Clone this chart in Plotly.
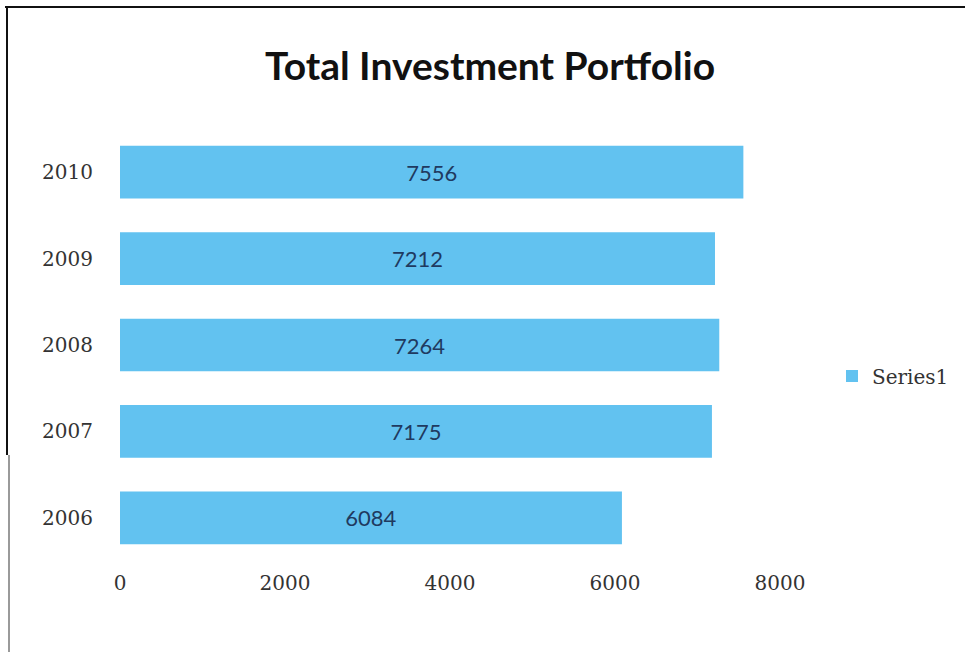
import plotly.graph_objects as go

years = ["2006", "2007", "2008", "2009", "2010"]
portfolio = [6084, 7175, 7264, 7212, 7556]
x_ticks = [0, 2000, 4000, 6000, 8000]

BAR_COLOR = "#62C2F0"
LABEL_COLOR = "#1F3A60"

# plot area in pixels
W, H = 965, 658
L, R, T, B = 120, 780, 129, 561

def px_x(px):
    return (px - L) / (R - L)

def px_y(py):
    return (B - py) / (B - T)

fig = go.Figure()
fig.add_trace(go.Bar(
    y=years,
    x=portfolio,
    orientation="h",
    name="Series1",
    marker=dict(color=BAR_COLOR, line=dict(width=0)),
    width=0.61,
    text=[str(v) for v in portfolio],
    textposition="inside",
    insidetextanchor="middle",
    textangle=0,
    constraintext="none",
    textfont=dict(family="Lato", size=22, color=LABEL_COLOR),
    showlegend=True,
))

# frame lines along the top and left edge
fig.add_shape(type="line", xref="paper", yref="paper",
              x0=px_x(5), x1=px_x(965), y0=px_y(7), y1=px_y(7),
              line=dict(color="#111111", width=2))
fig.add_shape(type="line", xref="paper", yref="paper",
              x0=px_x(7), x1=px_x(7), y0=px_y(7), y1=px_y(455),
              line=dict(color="#111111", width=2))
fig.add_shape(type="line", xref="paper", yref="paper",
              x0=px_x(9), x1=px_x(9), y0=px_y(455), y1=px_y(652),
              line=dict(color="#9a9a9a", width=2))

fig.update_layout(
    width=W, height=H,
    margin=dict(l=L, r=W - R, t=T, b=H - B, autoexpand=False),
    paper_bgcolor="white",
    plot_bgcolor="white",
    title=dict(text="<b>Total Investment Portfolio</b>",
               x=490 / W, xanchor="center",
               y=1 - 66 / H, yanchor="middle",
               font=dict(family="Lato", size=39, color="#111111")),
    xaxis=dict(range=[0, 8000], tickvals=x_ticks,
               ticktext=[str(v) for v in x_ticks],
               showgrid=False, zeroline=False, showline=False,
               ticks="outside", ticklen=4, tickcolor="rgba(0,0,0,0)",
               tickfont=dict(family="DejaVu Serif", size=20, color="#333333")),
    yaxis=dict(type="category", categoryorder="array", categoryarray=years,
               showgrid=False, zeroline=False, showline=False,
               ticks="outside", ticklen=22, tickcolor="rgba(0,0,0,0)",
               tickfont=dict(family="DejaVu Serif", size=20, color="#333333")),
    legend=dict(x=px_x(832), y=px_y(376), xanchor="left", yanchor="middle",
                font=dict(family="DejaVu Serif", size=20, color="#333333"),
                bgcolor="rgba(0,0,0,0)", itemwidth=30),
    bargap=0.39,
)

fig.write_html("out.html")
